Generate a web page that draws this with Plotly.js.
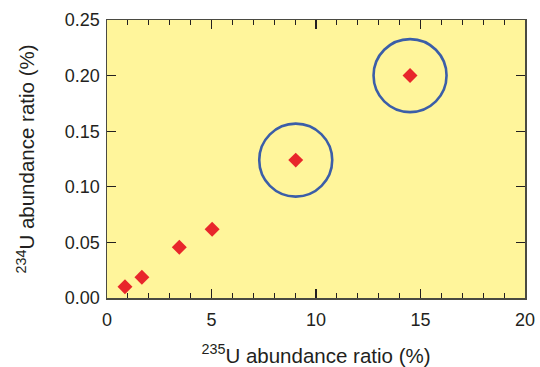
<!DOCTYPE html>
<html>
<head>
<meta charset="utf-8">
<script src="https://cdn.plot.ly/plotly-3.0.1.min.js"></script>
<style>html,body{margin:0;padding:0;background:#fff;}#chart{width:540px;height:367px;}</style>
</head>
<body>
<div id="chart"></div>
<script>
const u235 = [0.86, 1.67, 3.46, 5.03, 9.03, 14.5];
const u234 = [0.0102, 0.0186, 0.0456, 0.0618, 0.124, 0.200];
const circledX = [9.03, 14.5];
const circledY = [0.124, 0.200];
const xTickVals = [0, 5, 10, 15, 20];
const yTickVals = [0, 0.05, 0.10, 0.15, 0.20, 0.25];
const yTickText = ['0.00', '0.05', '0.10', '0.15', '0.20', '0.25'];

const fam = 'Liberation Sans, Arial, sans-serif';
const col = '#231f20';

const traces = [
  {x: circledX, y: circledY, type: 'scatter', mode: 'markers', hoverinfo: 'skip',
   marker: {symbol: 'circle-open', size: 73, color: '#3b5ea8', line: {width: 2.6, color: '#3b5ea8'}}},
  {x: u235, y: u234, type: 'scatter', mode: 'markers',
   marker: {symbol: 'diamond', size: 11.5, color: '#e8262b', line: {width: 0}}}
];

function axisCommon() {
  return {
    showline: true, linecolor: '#4a4a42', linewidth: 1.5, mirror: 'allticks',
    ticks: 'inside', ticklen: 9, tickwidth: 1.2, tickcolor: '#231f20',
    showgrid: false, zeroline: false,
    tickfont: {family: fam, size: 18, color: col}
  };
}

const layout = {
  width: 540, height: 367,
  margin: {l: 107, r: 15, t: 20, b: 69},
  paper_bgcolor: '#ffffff', plot_bgcolor: '#fff59b',
  showlegend: false,
  xaxis: Object.assign(axisCommon(), {
    range: [0, 20], tickvals: xTickVals, ticktext: xTickVals.map(String),
    ticklabelstandoff: 5,
    minor: {dtick: 1, ticks: 'inside', ticklen: 5, tickwidth: 1, tickcolor: '#231f20'},
    title: {text: '<sup>235</sup>U abundance ratio (%)', font: {family: fam, size: 20.5, color: col}, standoff: 20}
  }),
  yaxis: Object.assign(axisCommon(), {
    range: [0, 0.25], tickvals: yTickVals, ticktext: yTickText,
    ticklabelstandoff: 2,
    title: {text: '<sup>234</sup>U abundance ratio (%)', font: {family: fam, size: 20.5, color: col}, standoff: 24}
  })
};

Plotly.newPlot('chart', traces, layout, {displayModeBar: false, staticPlot: true});
</script>
</body>
</html>
